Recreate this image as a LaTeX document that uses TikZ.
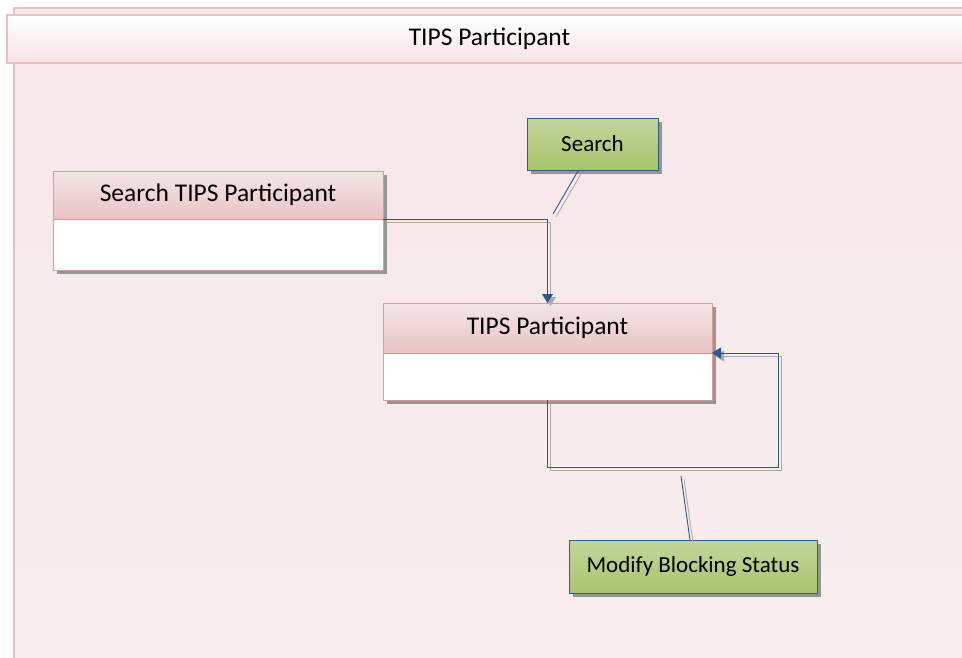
\documentclass[tikz,border=0pt]{standalone}
\usepackage{fontspec}
\setmainfont{Carlito}
\usetikzlibrary{arrows.meta,shadows}
\definecolor{frameline}{HTML}{E8C2C2}
\definecolor{frametop}{HTML}{F6E7E7}
\definecolor{framebot}{HTML}{F9EEEE}
\definecolor{bandbot}{HTML}{F5E4E4}
\definecolor{headtop}{HTML}{F4E6E6}
\definecolor{headbot}{HTML}{E9C3C3}
\definecolor{classline}{HTML}{D99A9A}
\definecolor{greentop}{HTML}{C3D69C}
\definecolor{greenbot}{HTML}{A8C46C}
\definecolor{greenline}{HTML}{2F5C8F}
\definecolor{connblue}{HTML}{2B5690}
\definecolor{shadowgray}{HTML}{959595}
\definecolor{connshadow}{HTML}{ABABAB}
\tikzset{
  boxshadow/.style={drop shadow={shadow xshift=4pt, shadow yshift=-4pt, fill=shadowgray, opacity=1}},
  classbody/.style={draw=classline, line width=1pt, fill=white, inner sep=0pt, outer sep=0pt, anchor=north west, boxshadow},
  classhead/.style={draw=classline, line width=1pt, top color=headtop, bottom color=headbot, inner sep=0pt, outer sep=0pt, anchor=north west, font=\fontsize{25.5}{30}\selectfont},
  greenbox/.style={draw=greenline, line width=1pt, top color=greentop, bottom color=greenbot, inner sep=0pt, outer sep=0pt, anchor=north west, boxshadow, font=\fontsize{23}{28}\selectfont},
  conn/.style={draw=connblue, line width=0.9pt},
  connsh/.style={draw=connshadow, line width=0.9pt, transform canvas={shift={(3pt,-3pt)}}},
  tip/.style={-{Triangle[length=9pt,width=11pt]}}
}
\begin{document}
\begin{tikzpicture}[x=1pt,y=-1pt]
\useasboundingbox (0,0) rectangle (962,657);
\clip (0,0) rectangle (962,657);
\fill[white] (0,0) rectangle (962,657);
% frame
\path[draw=frameline, line width=1.5pt, top color=frametop, bottom color=framebot] (14,8) rectangle (980,680);
\node[draw=frameline, line width=1.5pt, top color=white, bottom color=bandbot, inner sep=0pt, outer sep=0pt, anchor=north west, minimum width=965pt, minimum height=48pt, font=\fontsize{25.5}{30}\selectfont] (band) at (7,15) {TIPS Participant};
% class boxes
\node[classbody, minimum width=330pt, minimum height=99pt] (sp) at (53,171) {};
\node[classhead, minimum width=330pt, minimum height=48pt] (sph) at (53,171) {Search TIPS Participant};
\node[classbody, minimum width=329pt, minimum height=97pt] (tp) at (383,303) {};
\node[classhead, minimum width=329pt, minimum height=50pt] (tph) at (383,303) {TIPS Participant};
% green boxes
\node[greenbox, minimum width=131pt, minimum height=52pt] (srch) at (527,118) {Search};
\node[greenbox, minimum width=248pt, minimum height=53pt] (mod) at (569,540) {Modify Blocking Status};
% callout ends
\coordinate (c1) at (553,214);
\coordinate (c2) at (681,476);
% connector shadows
\draw[connsh, tip] (sph.south east) -| (tp.north);
\draw[connsh, tip] (tp.south) -- ++(0,67) -| ([xshift=66pt]tph.south east) -- (tph.south east);
\draw[connsh] ([xshift=-14pt]srch.south) -- (c1);
\draw[connsh] ([xshift=-3pt]mod.north) -- (c2);
% connectors
\draw[conn, tip] (sph.south east) -| (tp.north);
\draw[conn, tip] (tp.south) -- ++(0,67) -| ([xshift=66pt]tph.south east) -- (tph.south east);
\draw[conn] ([xshift=-14pt]srch.south) -- (c1);
\draw[conn] ([xshift=-3pt]mod.north) -- (c2);
\end{tikzpicture}
\end{document}
